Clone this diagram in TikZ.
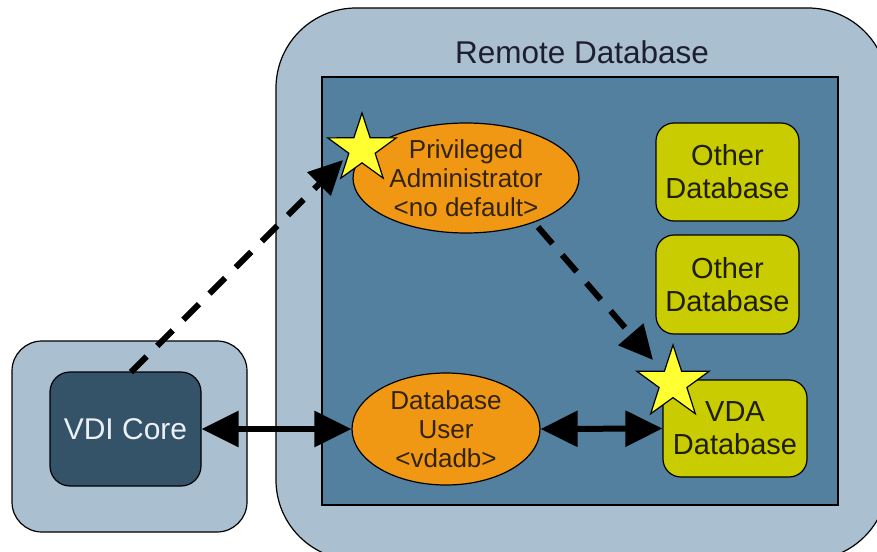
\documentclass[tikz,border=0pt]{standalone}
\usepackage{fontspec}
\setmainfont{Liberation Sans}
\usetikzlibrary{shapes.geometric,arrows.meta}
\definecolor{outerbg}{RGB}{170,191,207}
\definecolor{innerblue}{RGB}{84,128,160}
\definecolor{coreblue}{RGB}{52,82,104}
\definecolor{orangec}{RGB}{240,152,20}
\definecolor{olivec}{RGB}{200,204,0}
\definecolor{staryellow}{RGB}{255,255,50}
\definecolor{ovaltext}{RGB}{50,35,10}
\definecolor{boxtext}{RGB}{30,30,10}
\definecolor{titletext}{RGB}{30,30,50}
\definecolor{coretext}{RGB}{235,240,245}
\begin{document}
\begin{tikzpicture}[x=1pt,y=-1pt,
  outerbox/.style={rectangle, draw=black, line width=1.2pt, fill=outerbg, inner sep=0pt},
  dbbox/.style={rectangle, draw=black, line width=1.2pt, fill=olivec, rounded corners=18pt,
    inner sep=0pt, align=center, text=boxtext, font=\fontsize{29}{33}\selectfont},
  oval/.style={ellipse, draw=black, line width=1.2pt, fill=orangec, inner sep=0pt,
    align=center, text=ovaltext, font=\fontsize{26}{29}\selectfont},
  starn/.style={star, star points=5, star point ratio=2.6, draw=black, line width=1.2pt,
    fill=staryellow, inner sep=0pt},
  dasharrow/.style={line width=6pt, dash pattern=on 22pt off 15pt,
    -{Triangle[length=34pt,width=32pt]}},
  solidarrow/.style={line width=6pt,
    {Triangle[length=37pt,width=35pt]}-{Triangle[length=37pt,width=35pt]}}
]
\useasboundingbox (0,0) rectangle (877,551);
\fill[white] (0,0) rectangle (877,551);
\begin{scope}
\clip (0,0) rectangle (877,551);
% remote database outer
\node[outerbox, rounded corners=80pt, minimum width=612pt, minimum height=552pt] (remote) at (582,284) {};
\node[text=titletext, font=\fontsize{31.5}{31.5}\selectfont] (title) at (582,52) {Remote Database};
\node[outerbox, fill=innerblue, minimum width=516pt, minimum height=428pt] (inner) at (580,291) {};
% VDI
\node[outerbox, rounded corners=30pt, minimum width=235pt, minimum height=191pt] (vdiouter) at (129.5,436.5) {};
\node[outerbox, fill=coreblue, rounded corners=20pt, minimum width=151pt, minimum height=114pt,
  text=coretext, font=\fontsize{30}{30}\selectfont] (vdi) at (125.5,429) {VDI Core};
% ellipses
\node[oval, minimum width=226pt, minimum height=110pt] (priv) at (466,178) {Privileged\\Administrator\\<no default>};
\node[oval, minimum width=188pt, minimum height=112pt] (dbuser) at (446,429) {Database\\User\\<vdadb>};
% databases
\node[dbbox, minimum width=143pt, minimum height=98pt] (other1) at (727.5,172) {Other\\Database};
\node[dbbox, minimum width=143pt, minimum height=99pt] (other2) at (727.5,284.5) {Other\\Database};
\node[dbbox, minimum width=144pt, minimum height=97pt] (vda) at (735,428.5) {VDA\\Database};
% connectors
\coordinate (a1s) at (131,372);
\coordinate (a1e) at (343,160);
\coordinate (a2s) at (538,227);
\coordinate (a2e) at (653,360);
\draw[dasharrow] (a1s) -- (a1e);
\draw[dasharrow] (a2s) -- (a2e);
\draw[solidarrow] (vdi.east) -- (dbuser.west);
\draw[solidarrow] (dbuser.east) -- (vda.west);
% stars
\node[starn, minimum size=72pt] (star1) at (362,149) {};
\node[starn, minimum size=76pt] (star2) at (673,383) {};
\end{scope}
\end{tikzpicture}
\end{document}
